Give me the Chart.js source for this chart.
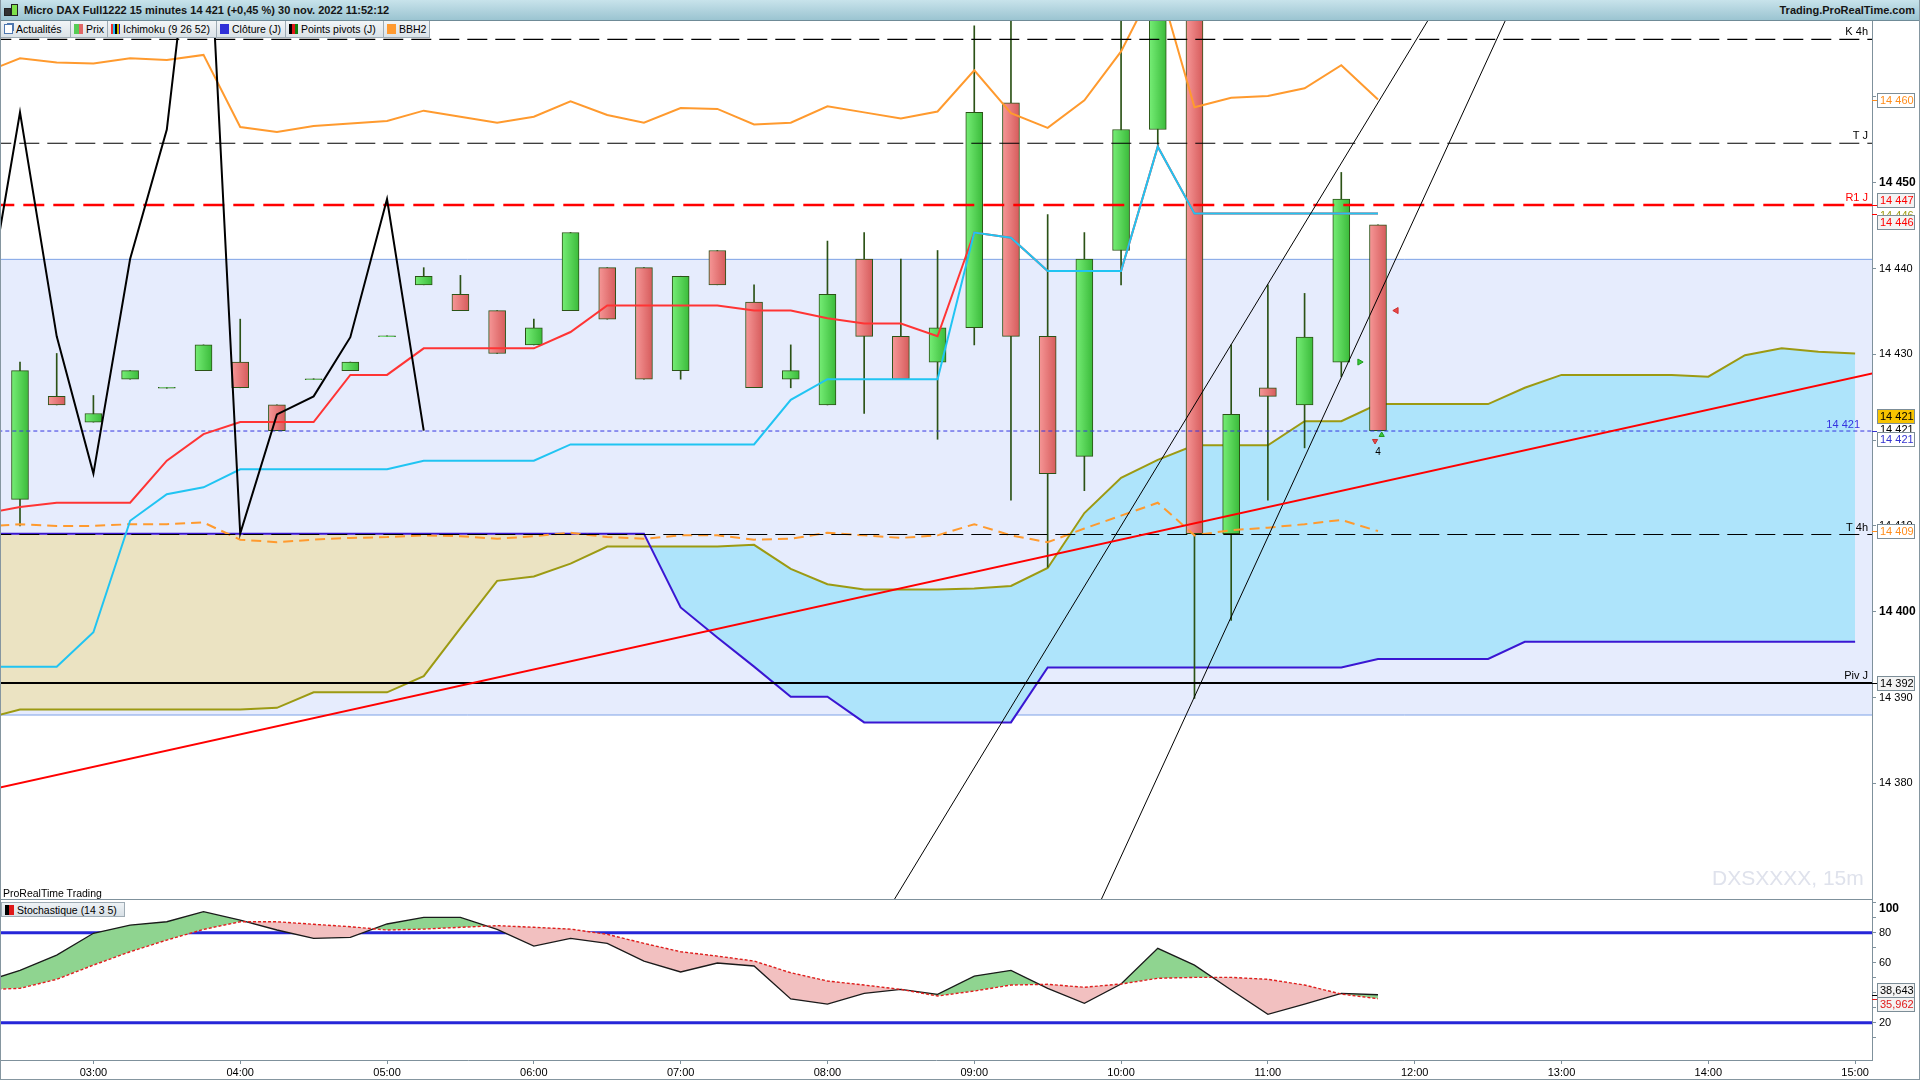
<!DOCTYPE html>
<html lang="fr">
<head>
<meta charset="utf-8">
<title>Micro DAX Full1222 15 minutes</title>
<script src="https://cdn.jsdelivr.net/npm/chart.js@4.4.0/dist/chart.umd.min.js"></script>
<style>
  html, body { margin: 0; padding: 0; background: #fff; }
  body { width: 1920px; height: 1080px; position: relative; overflow: hidden; font-family: "Liberation Sans", Arial, sans-serif; color: #000; }
  canvas { position: absolute; left: 0; }
  #titlebar { position: absolute; left: 0; top: 0; width: 1920px; height: 20px; background: linear-gradient(#c8e3eb, #9bc4d1); border-bottom: 1px solid #6f8b97; }
  #titlebar .t { position: absolute; left: 24px; top: 4px; font-weight: bold; font-size: 11px; color: #151515; white-space: nowrap; }
  #titlebar .r { position: absolute; right: 5px; top: 4px; font-weight: bold; font-size: 11px; color: #151515; }
  #titlebar .logo { position: absolute; left: 3px; top: 3px; width: 16px; height: 15px; }
  #titlebar .logo span { position: absolute; bottom: 2px; width: 5px; border: 1px solid #222; }
  #legend { position: absolute; left: 0; top: 21px; height: 17px; display: flex; }
  .btn { height: 17px; box-sizing: border-box; border: 1px solid #9eabb4; border-top: none; margin-right: -1px; background: linear-gradient(#f2f5f7, #dbe3e8); font-size: 10.5px; line-height: 16px; padding-left: 3px; display: flex; align-items: center; white-space: nowrap; }
  .ico { width: 9px; height: 10px; margin-right: 3px; flex: none; }
  #stochLegend { position: absolute; left: 1px; top: 902px; height: 15px; width: 124px; box-sizing: border-box; border: 1px solid #9eabb4; background: linear-gradient(#eef2f5, #d8e0e6); font-size: 10.5px; line-height: 14px; display: flex; align-items: center; padding-left: 3px; }
  #prt { position: absolute; left: 3px; top: 887px; font-size: 10.5px; }
  #wm { position: absolute; left: 1712px; top: 866px; font-size: 21px; color: #dfe2ec; white-space: nowrap; }
  #sep { position: absolute; left: 0; top: 899px; width: 1873px; height: 1px; background: #7f919c; }
  #frame { position: absolute; left: 0; top: 0; width: 1920px; height: 1080px; box-sizing: border-box; border: 1px solid #8596a0; border-top: none; pointer-events: none; }
</style>
</head>
<body>
<canvas id="main" width="1920" height="879" style="top:21px"></canvas>
<canvas id="stoch" width="1920" height="186" style="top:894px"></canvas>
<div id="sep"></div>
<div id="prt">ProRealTime Trading</div>
<div id="wm">DXSXXXX, 15m</div>
<div id="stochLegend"><span class="ico" style="background:linear-gradient(90deg,#000 50%,#e01818 50%)"></span>Stochastique (14 3 5)</div>
<div id="titlebar">
  <div class="logo"><span style="left:1px;height:6px;background:#333"></span><span style="left:8px;height:10px;background:#7ee04a"></span></div>
  <div class="t">Micro DAX Full1222 15 minutes 14 421 (+0,45 %) 30 nov. 2022 11:52:12</div>
  <div class="r">Trading.ProRealTime.com</div>
</div>
<div id="legend">
  <div class="btn" style="width:71px"><span class="ico" style="border:1px solid #4f78b0;background:#fff;box-shadow:2px -2px 0 -1px #4f78b0;width:7px;height:8px"></span>Actualités</div>
  <div class="btn" style="width:38px"><span class="ico" style="background:linear-gradient(90deg,#55cc55 50%,#e06666 50%)"></span>Prix</div>
  <div class="btn" style="width:110px"><span class="ico" style="background:linear-gradient(90deg,#f03030 0 2px,#20c0f0 2px 4px,#000 4px 6px,#c8b400 6px 8px,#3010d0 8px 10px)"></span>Ichimoku (9 26 52)</div>
  <div class="btn" style="width:70px"><span class="ico" style="background:#3030d8"></span>Clôture (J)</div>
  <div class="btn" style="width:99px"><span class="ico" style="background:linear-gradient(90deg,#000 0 3px,#e01818 3px 6px,#108010 6px 9px)"></span>Points pivots (J)</div>
  <div class="btn" style="width:47px"><span class="ico" style="background:#ff9a30"></span>BBH2</div>
</div>
<div id="frame"></div>

<script>
// 15 minute bars, x = bar index (0 = 02:30)
const barTimes = ["02:30", "02:45", "03:00", "03:15", "03:30", "03:45", "04:00", "04:15", "04:30", "04:45",
  "05:00", "05:15", "05:30", "05:45", "06:00", "06:15", "06:30", "06:45", "07:00", "07:15",
  "07:30", "07:45", "08:00", "08:15", "08:30", "08:45", "09:00", "09:15", "09:30", "09:45",
  "10:00", "10:15", "10:30", "10:45", "11:00", "11:15", "11:30", "11:45"];

const opens = [14413.1, 14425.1, 14422.1, 14427.1, 14426.05, 14428.1, 14429.1, 14424.1, 14427.05, 14428.1,
  14432.05, 14438.1, 14437.0, 14435.1, 14431.1, 14435.1, 14440.1, 14440.1, 14428.1, 14442.1,
  14436.1, 14427.1, 14424.1, 14441.1, 14432.1, 14429.1, 14433.1, 14459.3, 14432.1, 14418.1,
  14442.1, 14456.2, 14492.0, 14409.1, 14426.1, 14424.1, 14429.1, 14445.1];
const highs = [14429.1, 14430.1, 14425.2, 14428.1, 14426.15, 14431.1, 14434.1, 14424.1, 14427.15, 14429.1,
  14432.15, 14440.1, 14439.2, 14435.1, 14434.1, 14444.2, 14440.1, 14440.1, 14439.1, 14442.1,
  14438.1, 14431.1, 14443.2, 14444.2, 14441.1, 14442.1, 14468.3, 14472.0, 14446.3, 14444.2,
  14471.0, 14496.0, 14495.0, 14431.1, 14438.1, 14437.1, 14451.2, 14445.1];
const lows = [14410.0, 14424.1, 14422.1, 14427.1, 14426.05, 14428.1, 14426.1, 14421.1, 14427.05, 14428.1,
  14432.05, 14438.1, 14435.1, 14430.1, 14431.1, 14435.1, 14434.1, 14427.1, 14427.1, 14438.1,
  14426.1, 14426.1, 14424.1, 14423.1, 14427.1, 14420.1, 14431.1, 14413.0, 14405.2, 14414.1,
  14438.1, 14454.2, 14389.9, 14399.0, 14413.0, 14419.1, 14427.4, 14421.1];
const closes = [14428.1, 14424.1, 14423.1, 14428.1, 14426.15, 14431.1, 14426.1, 14421.1, 14427.15, 14429.1,
  14432.15, 14439.1, 14435.1, 14430.1, 14433.1, 14444.2, 14434.1, 14427.1, 14439.1, 14438.1,
  14426.1, 14428.1, 14437.0, 14432.1, 14427.1, 14433.1, 14458.2, 14432.1, 14416.1, 14441.1,
  14456.2, 14493.0, 14409.1, 14423.0, 14425.1, 14432.0, 14448.1, 14421.1];

// ichimoku, first value is bar -1
const tenkan = [14411.4, 14412.2, 14412.7, 14412.7, 14412.7, 14417.6, 14420.7, 14422.1, 14422.1, 14422.1,
  14427.6, 14427.6, 14430.7, 14430.7, 14430.7, 14430.7, 14432.6, 14435.7, 14435.7, 14435.7,
  14435.7, 14435.1, 14435.1, 14434.2, 14433.6, 14433.6, 14432.1, 14444.2, 14443.6, 14439.7,
  14439.7, 14439.7, 14454.2, 14446.4, 14446.4, 14446.4, 14446.4, 14446.4, 14446.4];
const kijun = [14393.6, 14393.6, 14393.6, 14397.6, 14410.6, 14413.7, 14414.5, 14416.6, 14416.6, 14416.6,
  14416.6, 14416.6, 14417.6, 14417.6, 14417.6, 14417.6, 14419.5, 14419.5, 14419.5, 14419.5,
  14419.5, 14419.5, 14424.7, 14427.1, 14427.1, 14427.1, 14427.1, 14444.2, 14443.6, 14439.7,
  14439.7, 14439.7, 14454.2, 14446.4, 14446.4, 14446.4, 14446.4, 14446.4, 14446.4];
const chikou = [14433.1, 14458.2, 14432.1, 14416.1, 14441.1, 14456.2, 14493.0, 14409.1, 14423.0, 14425.1,
  14432.0, 14448.1, 14421.1];
// senkou spans run from bar -1 to bar 50
const spanA = [14387.5, 14388.6, 14388.6, 14388.6, 14388.6, 14388.6, 14388.6, 14388.6, 14388.8, 14390.6,
  14390.6, 14390.6, 14392.5, 14398.1, 14403.6, 14404.1, 14405.6, 14407.6, 14407.6, 14407.6,
  14407.6, 14407.8, 14405.0, 14403.2, 14402.6, 14402.6, 14402.6, 14402.7, 14403.0, 14405.1,
  14411.5, 14415.6, 14417.7, 14419.4, 14419.4, 14419.4, 14422.2, 14422.2, 14424.2, 14424.2,
  14424.2, 14424.2, 14426.1, 14427.6, 14427.6, 14427.6, 14427.6, 14427.4, 14429.9, 14430.7,
  14430.3, 14430.1];
const spanB = [14409.1, 14409.1, 14409.1, 14409.1, 14409.1, 14409.1, 14409.1, 14409.1, 14409.1, 14409.1,
  14409.1, 14409.1, 14409.1, 14409.1, 14409.1, 14409.1, 14409.1, 14409.1, 14409.1, 14400.5,
  14397.0, 14393.6, 14390.1, 14390.1, 14387.1, 14387.1, 14387.1, 14387.1, 14387.1, 14393.5,
  14393.5, 14393.5, 14393.5, 14393.5, 14393.5, 14393.5, 14393.5, 14393.5, 14394.5, 14394.5,
  14394.5, 14394.5, 14396.5, 14396.5, 14396.5, 14396.5, 14396.5, 14396.5, 14396.5, 14396.5,
  14396.5, 14396.5];

// BBH2 from bar -1
const bbUpper = [14462.8, 14464.5, 14464.0, 14463.9, 14464.5, 14464.3, 14464.9, 14456.5, 14455.9, 14456.6,
  14456.9, 14457.2, 14458.4, 14457.7, 14457.0, 14457.7, 14459.5, 14457.9, 14457.0, 14458.7,
  14458.6, 14456.8, 14457.0, 14458.9, 14458.2, 14457.5, 14458.3, 14463.1, 14458.1, 14456.4,
  14459.6, 14465.3, 14473.7, 14458.8, 14459.9, 14460.1, 14461.0, 14463.7, 14459.7];
const bbMid = [14409.9, 14410.2, 14410.0, 14410.0, 14410.2, 14410.2, 14410.4, 14408.4, 14408.1, 14408.4,
  14408.6, 14408.7, 14408.9, 14408.8, 14408.5, 14408.8, 14409.2, 14408.7, 14408.5, 14408.9,
  14408.9, 14408.4, 14408.5, 14409.2, 14408.9, 14408.6, 14408.9, 14410.2, 14408.9, 14408.1,
  14409.7, 14411.2, 14412.7, 14408.9, 14409.5, 14409.8, 14410.2, 14410.7, 14409.4];

// stochastic (14 3 5) from bar -1
const stochK = [47.0, 54.9, 65.1, 79.6, 85.1, 87.3, 94.0, 88.4, 81.8, 76.2,
  76.9, 85.8, 90.2, 90.2, 82.2, 71.1, 76.2, 72.9, 61.1, 53.8,
  59.8, 57.8, 35.8, 32.4, 39.6, 42.2, 38.9, 51.1, 54.9, 42.9,
  32.9, 45.8, 69.6, 58.4, 41.8, 25.6, 32.4, 39.6, 38.643];
const stochD = [42.0, 42.9, 48.9, 58.4, 67.3, 75.1, 82.2, 87.3, 87.3, 85.6,
  84.0, 81.8, 82.4, 83.6, 84.7, 83.6, 82.4, 78.9, 72.9, 67.3,
  64.4, 61.1, 53.3, 47.8, 45.1, 42.2, 37.8, 41.1, 45.1, 45.6,
  43.6, 45.8, 49.6, 50.2, 50.2, 48.9, 45.1, 39.1, 35.962];
const stochLevels = [80, 20];

// pivots and levels
const levelNames = ["K 4h", "T J", "R1 J", "T 4h", "Piv J"];
const levelValues = [14466.7, 14454.6, 14447.4, 14409.0, 14391.7];
const lastPrice = 14421.06;
const zoneLimits = [14387.96, 14441.07];
const trendLine = [[-0.6, 14379.45], [50.6, 14427.9]];
const channelLow = [[23.6, 14364.9], [38.6, 14470.6]];
const channelHigh = [[29.25, 14364.5], [40.7, 14471.05]];

const priceTicks = [14370, 14380, 14390, 14400, 14410, 14420, 14430, 14440, 14450, 14460];
const priceLabeled = [14380, 14390, 14400, 14410, 14420, 14430, 14440, 14450];
const hourTicks = [2, 6, 10, 14, 18, 22, 26, 30, 34, 38, 42, 46, 50];
const hourLabels = ["03:00", "04:00", "05:00", "06:00", "07:00", "08:00", "09:00", "10:00", "11:00", "12:00", "13:00", "14:00", "15:00"];

const X_MIN = -0.545, X_MAX = 50.46;
const FONT = '"Liberation Sans", Arial, sans-serif';

function pts(arr, start) {
  return arr.map((v, i) => ({ x: start + i, y: v }));
}
function flat(v) {
  return [{ x: X_MIN - 1, y: v }, { x: X_MAX + 1, y: v }];
}
function seg(p) {
  return p.map(q => ({ x: q[0], y: q[1] }));
}
function fmt(v) {
  return Math.round(v).toString().replace(/\B(?=(\d{3})+(?!\d))/g, " ");
}

function bodyColor(ctx) {
  const i = ctx.dataIndex;
  if (i === undefined) return "#55d455";
  const up = closes[i] >= opens[i];
  const chart = ctx.chart;
  if (!chart.chartArea || !chart.scales.x) return up ? "#55d455" : "#e87474";
  const px = chart.scales.x.getPixelForValue(i);
  const g = chart.ctx.createLinearGradient(px - 8, 0, px + 8, 0);
  g.addColorStop(0, up ? "#74ec74" : "#f59595");
  g.addColorStop(1, up ? "#3cbc3c" : "#d75d5d");
  return g;
}

const line = (data, color, width, extra) => Object.assign({
  type: "line", data: data, borderColor: color, borderWidth: width,
  pointRadius: 0, pointHoverRadius: 0, tension: 0, fill: false
}, extra || {});

const levelStyle = [
  { color: "#000", width: 1.2, dash: [20, 8] },
  { color: "#000", width: 1.2, dash: [20, 8] },
  { color: "#ff0000", width: 2.4, dash: [21, 9] },
  { color: "#000", width: 1.2, dash: [20, 8] },
  { color: "#000", width: 2, dash: [] }
];

const mainDatasets = [
  line(flat(zoneLimits[1]), "#7ea2e6", 1, { fill: { target: 1 }, backgroundColor: "#e6ecfd", order: 100 }),
  line(flat(zoneLimits[0]), "#7ea2e6", 1, { order: 99 }),
  line(pts(spanA, -1), "#9c9a12", 2, { fill: { target: 3, above: "#aee4fb", below: "#ebe3c2" }, order: 92 }),
  line(pts(spanB, -1), "#3a16d2", 2, { order: 91 }),
  {
    type: "bar", data: barTimes.map((t, i) => ({ x: i, y: [lows[i], highs[i]] })),
    backgroundColor: "#2b5216", barThickness: 1, grouped: false, order: 60, clip: 0
  },
  {
    type: "bar", data: barTimes.map((t, i) => ({ x: i, y: [opens[i], closes[i]] })),
    backgroundColor: bodyColor, borderColor: "#2b5216", borderWidth: 1, borderSkipped: false,
    barThickness: 17, grouped: false, order: 59, clip: 0
  }
];
levelValues.forEach((v, i) => {
  mainDatasets.push(line(flat(v), levelStyle[i].color, levelStyle[i].width, { borderDash: levelStyle[i].dash, order: 45 }));
});
mainDatasets.push(
  line(flat(lastPrice), "#3434e0", 1, { borderDash: [4, 3], order: 44 }),
  line(pts(bbUpper, -1), "#ff9a2e", 2, { order: 50 }),
  line(pts(bbMid, -1), "#ff9a2e", 2, { borderDash: [10, 6], order: 49 }),
  line(pts(tenkan, -1), "#ff3434", 2, { order: 42 }),
  line(pts(kijun, -1), "#20c4f2", 2, { order: 41 }),
  line(pts(chikou, -1), "#000", 2, { order: 40 }),
  line(seg(trendLine), "#ff0000", 2, { order: 30 }),
  line(seg(channelLow), "#000", 1, { order: 30 }),
  line(seg(channelHigh), "#000", 1, { order: 30 }),
  line([{ x: 37.5, y: 14435.1 }], "#d03030", 1, { showLine: false, pointStyle: "triangle", pointRadius: 3.5, pointRotation: -90, pointBackgroundColor: "#e84848", order: 10 }),
  line([{ x: 36.5, y: 14429.1 }], "#1e9a1e", 1, { showLine: false, pointStyle: "triangle", pointRadius: 3.5, pointRotation: 90, pointBackgroundColor: "#3ac83a", order: 10 }),
  line([{ x: 36.92, y: 14419.9 }], "#c03030", 1, { showLine: false, pointStyle: "triangle", pointRadius: 3, pointRotation: 180, pointBackgroundColor: "#e84848", order: 10 }),
  line([{ x: 37.1, y: 14420.6 }], "#1e9a1e", 1, { showLine: false, pointStyle: "triangle", pointRadius: 3, pointRotation: 0, pointBackgroundColor: "#3ac83a", order: 10 })
);

function axisBox(ctx, x, yVal, yBox, text, color, bg) {
  ctx.strokeStyle = color;
  ctx.lineWidth = 1;
  ctx.beginPath();
  ctx.moveTo(x, Math.round(yVal) + 0.5);
  ctx.lineTo(x + 5, Math.round(yVal) + 0.5);
  ctx.stroke();
  ctx.fillStyle = bg;
  ctx.fillRect(x + 5.5, Math.round(yBox - 7) + 0.5, 37, 14);
  ctx.strokeStyle = "#7c8d97";
  ctx.strokeRect(x + 5.5, Math.round(yBox - 7) + 0.5, 37, 14);
  ctx.fillStyle = color;
  ctx.fillText(text, x + 8, yBox + 4);
}

const mainLabels = {
  id: "mainLabels",
  afterDraw(chart) {
    const { ctx, chartArea, scales: { x, y } } = chart;
    ctx.save();
    ctx.font = "11px " + FONT;
    ctx.textAlign = "right";
    levelNames.forEach((name, i) => {
      ctx.fillStyle = levelStyle[i].color;
      ctx.fillText(name, chartArea.right - 4, y.getPixelForValue(levelValues[i]) - 4);
    });
    ctx.fillStyle = "#3434e0";
    ctx.fillText(fmt(lastPrice), chartArea.right - 12, y.getPixelForValue(lastPrice) - 3);
    ctx.textAlign = "center";
    ctx.fillStyle = "#000";
    ctx.font = "10px " + FONT;
    ctx.fillText("4", x.getPixelForValue(37), y.getPixelForValue(14418.3));

    // value boxes on the price axis
    ctx.font = "11px " + FONT;
    ctx.textAlign = "left";
    const r = chartArea.right;
    const py = v => y.getPixelForValue(v);
    const lastUpper = bbUpper[bbUpper.length - 1];
    const lastMid = bbMid[bbMid.length - 1];
    const lastK = kijun[kijun.length - 1];
    const lastClose = closes[closes.length - 1];
    axisBox(ctx, r, py(lastUpper), py(lastUpper), fmt(lastUpper), "#ff8c1a", "#fff");
    ctx.fillStyle = "#9c9a12";
    ctx.fillText(fmt(lastK), r + 8, py(lastK) + 5);
    axisBox(ctx, r, py(levelValues[2]), py(levelValues[2]) - 4.6, fmt(levelValues[2]), "#ff0000", "#f3f3f3");
    axisBox(ctx, r, py(tenkan[tenkan.length - 1]), py(tenkan[tenkan.length - 1]) + 8, fmt(tenkan[tenkan.length - 1]), "#ff0000", "#f3f3f3");
    ctx.fillStyle = "#000";
    ctx.fillText(fmt(lastClose), r + 8, py(lastClose) + 2);
    axisBox(ctx, r, py(lastClose), py(lastClose) - 14.4, fmt(lastClose), "#000", "#f7c300");
    axisBox(ctx, r, py(lastPrice), py(lastPrice) + 7.5, fmt(lastPrice), "#3434d0", "#fff");
    axisBox(ctx, r, py(lastMid), py(lastMid), fmt(lastMid), "#ff8c1a", "#fff");
    axisBox(ctx, r, py(levelValues[4]), py(levelValues[4]), fmt(levelValues[4]), "#000", "#f3f3f3");
    ctx.restore();
  }
};

new Chart(document.getElementById("main"), {
  type: "line",
  data: { datasets: mainDatasets },
  options: {
    responsive: false,
    animation: false,
    devicePixelRatio: 1,
    layout: { padding: 0, autoPadding: false },
    plugins: { legend: { display: false }, tooltip: { enabled: false } },
    scales: {
      x: { type: "linear", min: X_MIN, max: X_MAX, display: false, offset: false },
      y: {
        type: "linear", position: "right", min: 14366.4, max: 14468.85,
        afterBuildTicks: s => { s.ticks = priceTicks.map(v => ({ value: v })); },
        afterFit: s => { s.width = 48; s.paddingTop = 0; s.paddingBottom = 0; },
        ticks: {
          padding: 3, color: "#000", autoSkip: false,
          font: c => (c.tick && c.tick.value % 50 === 0) ? { family: FONT, size: 12, weight: "bold" } : { family: FONT, size: 11 },
          callback: v => priceLabeled.includes(v) ? fmt(v) : ""
        },
        grid: { drawOnChartArea: false, tickLength: 4, tickColor: c => (c.tick && c.tick.value < 14375) ? "rgba(0,0,0,0)" : "#7f919c" },
        border: { color: "#7f919c" }
      }
    }
  },
  plugins: [mainLabels]
});

const stochTicks = [10, 20, 30, 40, 50, 60, 70, 80, 90, 100];
const stochLabeled = [20, 60, 80];

const stochBoxes = {
  id: "stochBoxes",
  afterDraw(chart) {
    const { ctx, chartArea, scales: { y } } = chart;
    ctx.save();
    // top label sits just inside the panel
    ctx.font = "bold 12px " + FONT;
    ctx.fillStyle = "#000";
    ctx.fillText("100", chartArea.right + 7, y.getPixelForValue(100) + 9.5);
    ctx.font = "11px " + FONT;
    const k = stochK[stochK.length - 1];
    const d = stochD[stochD.length - 1];
    const f = v => v.toFixed(3).replace(".", ",");
    axisBox(ctx, chartArea.right, y.getPixelForValue(k), y.getPixelForValue(k) - 4.7, f(k), "#000", "#f3f3f3");
    axisBox(ctx, chartArea.right, y.getPixelForValue(d), y.getPixelForValue(d) + 5.5, f(d), "#e01818", "#f3f3f3");
    ctx.restore();
  }
};

new Chart(document.getElementById("stoch"), {
  type: "line",
  data: {
    datasets: [
      line(pts(stochK, -1), "#1a1a1a", 1.3, { fill: { target: 1, above: "#8fd490", below: "#f2c0c0" }, order: 3 }),
      line(pts(stochD, -1), "#e01e1e", 1.4, { borderDash: [3, 2], order: 1 }),
      line(flat(stochLevels[0]), "#2626d8", 3, { order: 5 }),
      line(flat(stochLevels[1]), "#2626d8", 3, { order: 5 })
    ]
  },
  options: {
    responsive: false,
    animation: false,
    devicePixelRatio: 1,
    layout: { padding: { top: 6 }, autoPadding: false },
    plugins: { legend: { display: false }, tooltip: { enabled: false } },
    scales: {
      x: {
        type: "linear", min: X_MIN, max: X_MAX, offset: false,
        afterBuildTicks: s => { s.ticks = hourTicks.map(v => ({ value: v })); },
        afterFit: s => { s.height = 20; s.paddingLeft = 0; s.paddingRight = 0; },
        ticks: { color: "#000", padding: 2, maxRotation: 0, autoSkip: false, font: { family: FONT, size: 11 },
          callback: v => hourLabels[hourTicks.indexOf(v)] },
        grid: { drawOnChartArea: false, tickLength: 4, tickColor: "#7f919c" },
        border: { color: "#7f919c" }
      },
      y: {
        type: "linear", position: "right", min: -4.87, max: 101.8,
        afterBuildTicks: s => { s.ticks = stochTicks.map(v => ({ value: v })); },
        afterFit: s => { s.width = 48; s.paddingTop = 0; s.paddingBottom = 0; },
        ticks: {
          padding: 3, color: "#000", autoSkip: false, font: { family: FONT, size: 11 },
          callback: v => stochLabeled.includes(v) ? String(v) : ""
        },
        grid: { drawOnChartArea: false, tickLength: 4, tickColor: "#7f919c" },
        border: { color: "#7f919c" }
      }
    }
  },
  plugins: [stochBoxes]
});
</script>
</body>
</html>
